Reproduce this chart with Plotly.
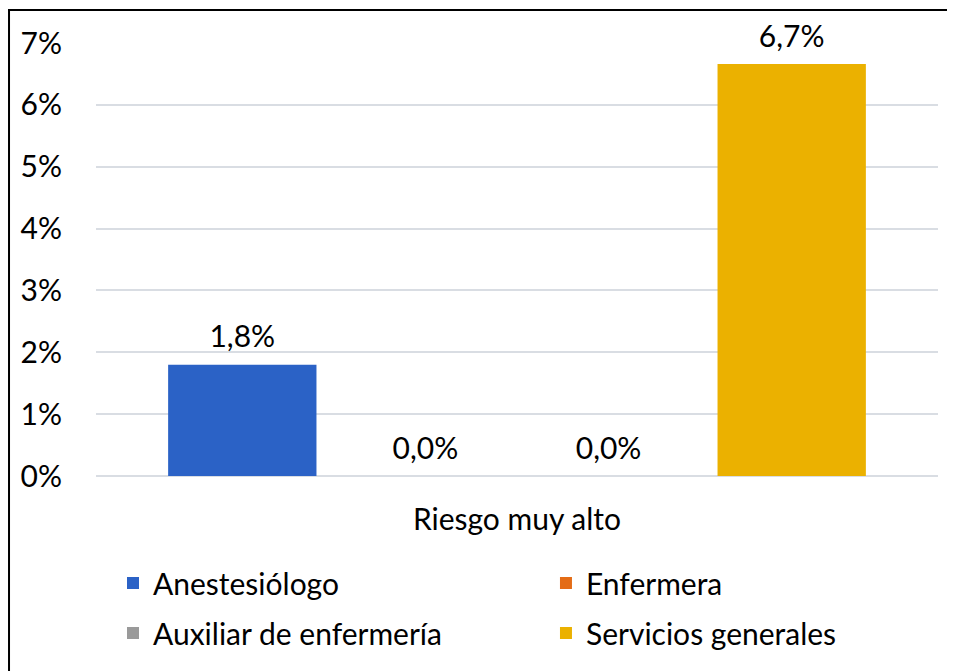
import plotly.graph_objects as go

# Data
category = ["Riesgo muy alto"]
series = ["Anestesiólogo", "Enfermera", "Auxiliar de enfermería", "Servicios generales"]
values = [0.018, 0.0, 0.0, 0.0666]
colors = ["#2B62C6", "#E46C16", "#9A9A9A", "#EBB100"]

FONT = "Lato"
SIZE = 30

# one legend per entry so the 2x2 grid sits where the reference has it
legend_ids = ["legend", "legend2", "legend3", "legend4"]
legend_pos = [(0.0202, -0.2471), (0.5344, -0.2471), (0.0202, -0.3626), (0.5344, -0.3626)]

fig = go.Figure()
for name, val, col, lg in zip(series, values, colors, legend_ids):
    fig.add_trace(go.Bar(
        x=category,
        y=[val],
        name=name,
        offsetgroup=name,
        marker=dict(color=col, line=dict(width=0)),
        legend=lg,
    ))

# value labels as text-only scatter points grouped like the bars,
# which leaves a bit more room above each bar than bar text does
for name, val in zip(series, values):
    fig.add_trace(go.Scatter(
        x=category,
        y=[val],
        offsetgroup=name,
        mode="markers+text",
        marker=dict(size=14, opacity=0),
        texttemplate="%{y:.1%}",
        textposition="top center",
        textfont=dict(size=SIZE, color="#000000", family=FONT),
        cliponaxis=False,
        showlegend=False,
        hoverinfo="skip",
    ))

legends = {}
for lg, (lx, ly) in zip(legend_ids, legend_pos):
    legends[lg] = dict(
        orientation="h",
        x=lx, xanchor="left",
        y=ly, yanchor="middle",
        font=dict(size=SIZE, color="#000000", family=FONT),
        bgcolor="rgba(0,0,0,0)",
    )

fig.update_layout(
    width=955, height=671,
    margin=dict(l=88, r=25, t=35, b=203),
    paper_bgcolor="white",
    plot_bgcolor="white",
    separators=",.",
    barmode="group",
    bargap=0.13,
    bargroupgap=0.19,
    scattermode="group",
    scattergap=0.13,
    showlegend=True,
    font=dict(family=FONT, size=SIZE, color="#000000"),
    xaxis=dict(
        showgrid=False, showline=False, zeroline=False,
        ticks="outside", ticklen=17, tickcolor="rgba(0,0,0,0)",
        tickfont=dict(size=SIZE, color="#000000", family=FONT),
    ),
    yaxis=dict(
        range=[0, 0.07],
        dtick=0.01,
        tickformat=".0%",
        showgrid=True, gridcolor="#D9DDE3", gridwidth=1.5,
        zeroline=True, zerolinecolor="#D9DDE3", zerolinewidth=1.5,
        showline=False,
        ticks="outside", ticklen=27, tickcolor="rgba(0,0,0,0)",
        tickfont=dict(size=SIZE, color="#000000", family=FONT),
    ),
    shapes=[dict(
        type="rect", xref="paper", yref="paper",
        x0=-0.1033, x1=1.026, y0=-0.471, y1=1.076,
        line=dict(color="#000000", width=2),
        fillcolor="rgba(0,0,0,0)", layer="above",
    )],
    **legends,
)

fig.write_html("out.html")
